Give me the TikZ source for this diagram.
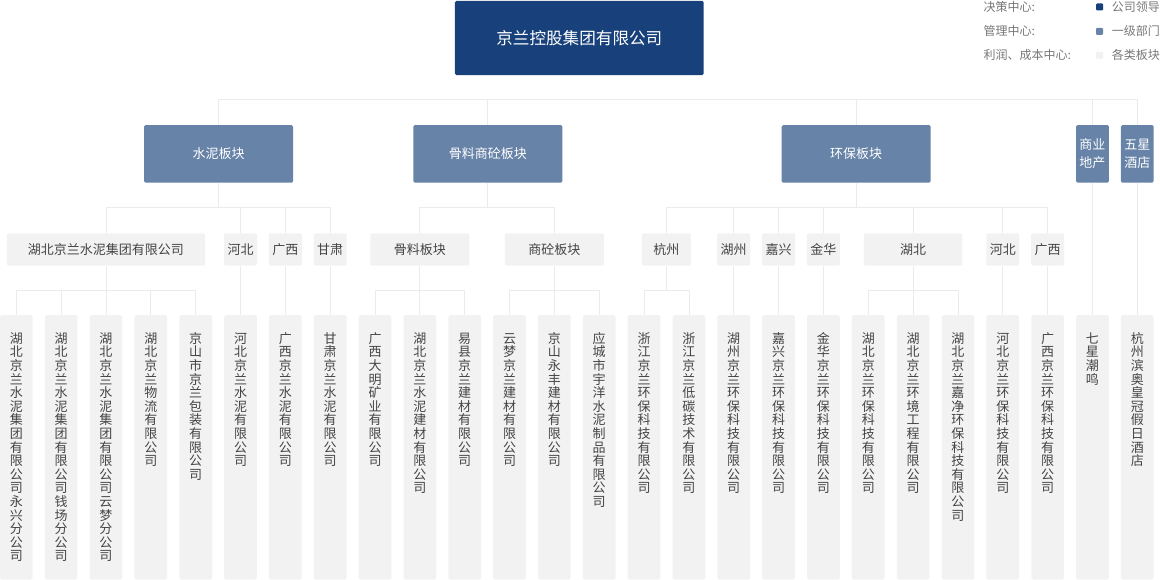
\documentclass[tikz,border=0pt]{standalone}
\usepackage{fontspec}
\newfontfamily\cjk{Noto Sans CJK SC}
\usetikzlibrary{positioning}
\definecolor{navy}{HTML}{18407A}
\definecolor{steel}{HTML}{6783A8}
\definecolor{paper}{HTML}{F2F2F2}
\definecolor{wire}{HTML}{EBEBEB}
\definecolor{ink}{HTML}{444444}
\definecolor{note}{HTML}{777777}

% one character per line, for the narrow company boxes
\def\vname#1{\vtop{\offinterlineskip\vnameA#1\relax}}
\def\vnameA#1#2\relax{\hbox to 14pt{\hss\vrule width 0pt height 10pt depth 3.6pt\smash{#1}\hss}%
  \ifx\relax#2\relax\else\vnameA#2\relax\fi}

\tikzset{
  box/.style={rounded corners=1.5pt, inner sep=0pt, align=center},
  root/.style={box, fill=navy, text=white, minimum width=248.7pt, minimum height=74.3pt,
    font=\cjk\fontsize{16.6}{20}\selectfont},
  sector/.style={box, fill=steel, text=white, minimum width=149pt, minimum height=57.7pt,
    font=\cjk\fontsize{13}{18}\selectfont},
  region/.style={box, fill=paper, text=ink, minimum height=32.4pt,
    font=\cjk\fontsize{13}{16}\selectfont},
  leaf/.style={box, fill=paper, text=ink, anchor=north, minimum width=32.7pt,
    text width=14pt, text height=28.2pt, text depth=236.1pt,
    font=\cjk\fontsize{13}{14}\selectfont},
  link/.style={draw=wire, line width=0.8pt},
  key/.style={inner sep=0pt, anchor=west, text=note, font=\cjk\fontsize{12}{14}\selectfont},
  swatch/.style={minimum size=7pt, inner sep=0pt, rounded corners=1pt}
}

\begin{document}
\begin{tikzpicture}[x=1pt,y=-1pt]
\useasboundingbox (0,0) rectangle (1160,580);

% top
\node[root] (root) at (579.3,38) {京兰控股集团有限公司};

% legend
\node[key] (k1) at (983.3,7) {决策中心:};
\node[key] (k2) at (983.3,31.3) {管理中心:};
\node[key] (k3) at (983.3,55.3) {利润、成本中心:};
\node[swatch, fill=navy] (s1) at (1099.5,7) {};
\node[swatch, fill=steel] (s2) at (1099.5,31.3) {};
\node[swatch, fill=paper] (s3) at (1099.5,55.3) {};
\node[key] (v1) at (1111.7,7) {公司领导};
\node[key] (v2) at (1111.7,31.3) {一级部门};
\node[key] (v3) at (1111.7,55.3) {各类板块};

% sectors
\node[sector] (cement) at (218.5,153.9) {水泥板块};
\node[sector] (agg) at (487.8,153.9) {骨料商砼板块};
\node[sector] (env) at (856.2,153.9) {环保板块};
\node[sector, minimum width=32.7pt] (estate) at (1092.46,153.9) {商业\\地产};
\node[sector, minimum width=32.7pt] (hotel) at (1137.3,153.9) {五星\\酒店};

% regions
\node[region, minimum width=198.3pt] (hbg) at (105.98,249.5) {湖北京兰水泥集团有限公司};
\node[region, minimum width=33pt] (hebeiA) at (240.5,249.5) {河北};
\node[region, minimum width=33pt] (gxA) at (285.34,249.5) {广西};
\node[region, minimum width=33pt] (gs) at (330.18,249.5) {甘肃};
\node[region, minimum width=99pt] (gl) at (419.86,249.5) {骨料板块};
\node[region, minimum width=99pt] (st) at (554.38,249.5) {商砼板块};
\node[region, minimum width=49pt] (hz) at (666.48,249.5) {杭州};
\node[region, minimum width=33pt] (huz) at (733.74,249.5) {湖州};
\node[region, minimum width=33pt] (jx) at (778.58,249.5) {嘉兴};
\node[region, minimum width=33pt] (jh) at (823.42,249.5) {金华};
\node[region, minimum width=98.7pt] (hbB) at (913.1,249.5) {湖北};
\node[region, minimum width=33pt] (hebeiB) at (1002.78,249.5) {河北};
\node[region, minimum width=33pt] (gxB) at (1047.62,249.5) {广西};

% companies
\node[leaf] (l1) at (16.3,315) {\vname{湖北京兰水泥集团有限公司永兴分公司}};
\node[leaf] (l2) at (61.14,315) {\vname{湖北京兰水泥集团有限公司钱场分公司}};
\node[leaf] (l3) at (105.98,315) {\vname{湖北京兰水泥集团有限公司云梦分公司}};
\node[leaf] (l4) at (150.82,315) {\vname{湖北京兰物流有限公司}};
\node[leaf] (l5) at (195.66,315) {\vname{京山市京兰包装有限公司}};
\node[leaf] (l6) at (240.5,315) {\vname{河北京兰水泥有限公司}};
\node[leaf] (l7) at (285.34,315) {\vname{广西京兰水泥有限公司}};
\node[leaf] (l8) at (330.18,315) {\vname{甘肃京兰水泥有限公司}};
\node[leaf] (l9) at (375.02,315) {\vname{广西大明矿业有限公司}};
\node[leaf] (l10) at (419.86,315) {\vname{湖北京兰水泥建材有限公司}};
\node[leaf] (l11) at (464.7,315) {\vname{易县京兰建材有限公司}};
\node[leaf] (l12) at (509.54,315) {\vname{云梦京兰建材有限公司}};
\node[leaf] (l13) at (554.38,315) {\vname{京山永丰建材有限公司}};
\node[leaf] (l14) at (599.22,315) {\vname{应城市宇洋水泥制品有限公司}};
\node[leaf] (l15) at (644.06,315) {\vname{浙江京兰环保科技有限公司}};
\node[leaf] (l16) at (688.9,315) {\vname{浙江京兰低碳技术有限公司}};
\node[leaf] (l17) at (733.74,315) {\vname{湖州京兰环保科技有限公司}};
\node[leaf] (l18) at (778.58,315) {\vname{嘉兴京兰环保科技有限公司}};
\node[leaf] (l19) at (823.42,315) {\vname{金华京兰环保科技有限公司}};
\node[leaf] (l20) at (868.26,315) {\vname{湖北京兰环保科技有限公司}};
\node[leaf] (l21) at (913.1,315) {\vname{湖北京兰环境工程有限公司}};
\node[leaf] (l22) at (957.94,315) {\vname{湖北京兰嘉净环保科技有限公司}};
\node[leaf] (l23) at (1002.78,315) {\vname{河北京兰环保科技有限公司}};
\node[leaf] (l24) at (1047.62,315) {\vname{广西京兰环保科技有限公司}};
\node[leaf] (l25) at (1092.46,315) {\vname{七星潮鸣}};
\node[leaf] (l26) at (1137.3,315) {\vname{杭州滨奥皇冠假日酒店}};

% top bus
\coordinate (bus) at (579.3,99.3);
\draw[link] (cement.north) |- (bus) -| (hotel.north);
\draw[link] (agg.north) -- (agg.north |- bus);
\draw[link] (env.north) -- (env.north |- bus);
\draw[link] (estate.north) -- (estate.north |- bus);

% sectors to regions
\draw[link] (cement.south) -- ++(0,24.6) -| (hbg.north)
  (cement.south) -- ++(0,24.6) -| (hebeiA.north)
  (cement.south) -- ++(0,24.6) -| (gxA.north)
  (cement.south) -- ++(0,24.6) -| (gs.north);
\draw[link] (agg.south) -- ++(0,24.6) -| (gl.north)
  (agg.south) -- ++(0,24.6) -| (st.north);
\draw[link] (env.south) -- ++(0,24.6) -| (hz.north)
  (env.south) -- ++(0,24.6) -| (huz.north)
  (env.south) -- ++(0,24.6) -| (jx.north)
  (env.south) -- ++(0,24.6) -| (jh.north)
  (env.south) -- ++(0,24.6) -| (hbB.north)
  (env.south) -- ++(0,24.6) -| (hebeiB.north)
  (env.south) -- ++(0,24.6) -| (gxB.north);
\draw[link] (estate.south) -- (l25.north);
\draw[link] (hotel.south) -- (l26.north);

% regions to companies
\draw[link] (hbg.south) -- ++(0,24.6) -| (l1.north)
  (hbg.south) -- ++(0,24.6) -| (l2.north)
  (hbg.south) -- ++(0,24.6) -| (l3.north)
  (hbg.south) -- ++(0,24.6) -| (l4.north)
  (hbg.south) -- ++(0,24.6) -| (l5.north);
\draw[link] (hebeiA.south) -- (l6.north);
\draw[link] (gxA.south) -- (l7.north);
\draw[link] (gs.south) -- (l8.north);
\draw[link] (gl.south) -- ++(0,24.6) -| (l9.north)
  (gl.south) -- ++(0,24.6) -| (l10.north)
  (gl.south) -- ++(0,24.6) -| (l11.north);
\draw[link] (st.south) -- ++(0,24.6) -| (l12.north)
  (st.south) -- ++(0,24.6) -| (l13.north)
  (st.south) -- ++(0,24.6) -| (l14.north);
\draw[link] (hz.south) -- ++(0,24.6) -| (l15.north)
  (hz.south) -- ++(0,24.6) -| (l16.north);
\draw[link] (huz.south) -- (l17.north);
\draw[link] (jx.south) -- (l18.north);
\draw[link] (jh.south) -- (l19.north);
\draw[link] (hbB.south) -- ++(0,24.6) -| (l20.north)
  (hbB.south) -- ++(0,24.6) -| (l21.north)
  (hbB.south) -- ++(0,24.6) -| (l22.north);
\draw[link] (hebeiB.south) -- (l23.north);
\draw[link] (gxB.south) -- (l24.north);
\end{tikzpicture}
\end{document}
